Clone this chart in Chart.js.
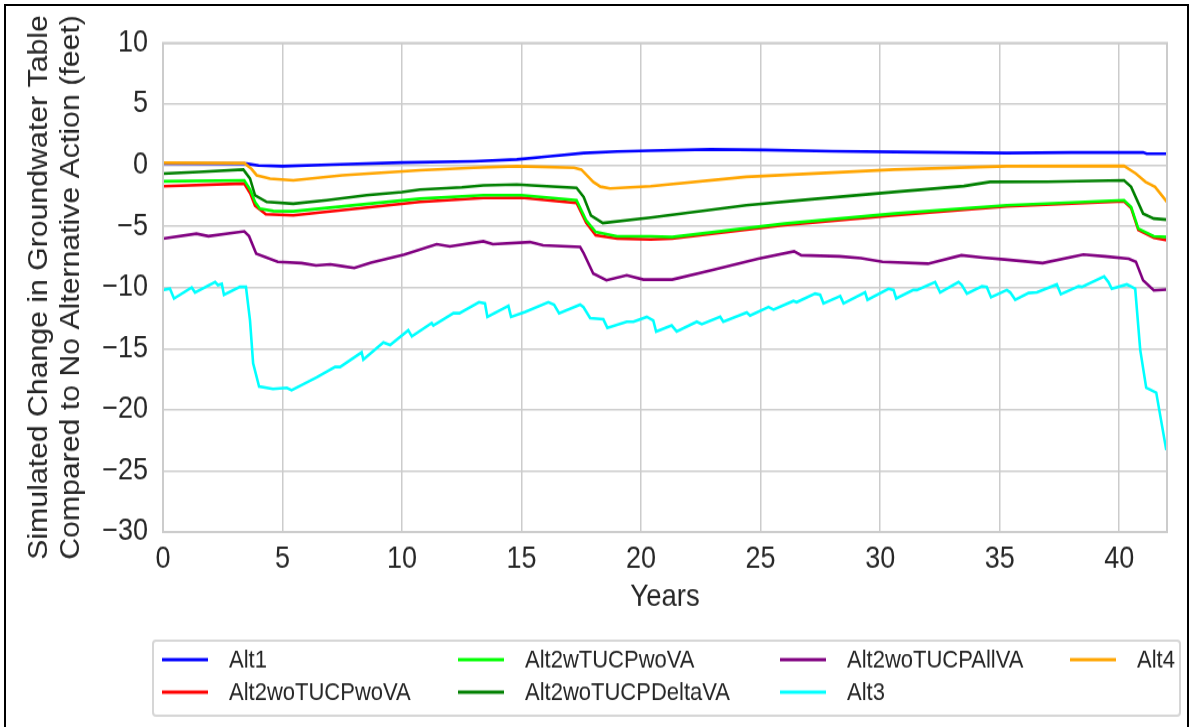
<!DOCTYPE html>
<html>
<head>
<meta charset="utf-8">
<script src="https://cdn.jsdelivr.net/npm/chart.js@4/dist/chart.umd.min.js"></script>
<style>
  html, body { margin: 0; padding: 0; background: #fff; overflow: hidden; }
  #frame { position: absolute; left: 4px; top: 4px; width: 1181px; height: 800px; border: 2px solid #000; }
  /* the source figure is stretched a little vertically, so the canvas is too */
  #chart { position: absolute; left: 0; top: 0; transform: scaleY(1.12); transform-origin: 0 0; }
</style>
</head>
<body>
<div id="frame"></div>
<canvas id="chart" width="1192" height="649"></canvas>
<script>
// Series (years, feet)
const alt1Years  = [0, 3.5, 4.0, 5.0, 7.0, 10.0, 13.0, 14.8, 16.2, 17.6, 19.0, 20.4, 22.9, 25.2, 28.0, 30.6, 35.3, 38.0, 41.0, 41.15, 42];
const alt1Values = [0.15, 0.13, -0.02, -0.08, 0.05, 0.22, 0.33, 0.47, 0.74, 1.0, 1.12, 1.2, 1.3, 1.25, 1.15, 1.09, 1.0, 1.05, 1.05, 0.95, 0.95];

const alt2woTUCPwoVAYears  = [0, 3.4, 3.65, 3.85, 4.3, 5.45, 10.75, 13.4, 15.0, 17.3, 17.7, 18.1, 19.0, 20.4, 21.3, 26.0, 30.6, 35.3, 40.2, 40.5, 40.8, 41.45, 42];
const alt2woTUCPwoVAValues = [-1.72, -1.5, -2.3, -3.3, -4.0, -4.09, -3.0, -2.67, -2.65, -3.08, -4.7, -5.73, -6.0, -6.06, -6.0, -4.9, -4.09, -3.35, -2.95, -3.5, -5.3, -5.92, -6.14];

const alt2wTUCPwoVAYears  = [0, 3.4, 3.65, 3.85, 4.05, 4.62, 5.45, 10.75, 13.4, 15.0, 17.3, 17.7, 18.1, 19.0, 20.4, 21.3, 26.0, 30.6, 35.3, 40.2, 40.5, 40.8, 41.45, 42];
const alt2wTUCPwoVAValues = [-1.31, -1.23, -2.0, -3.0, -3.55, -3.74, -3.76, -2.73, -2.45, -2.45, -2.86, -4.5, -5.46, -5.81, -5.81, -5.87, -4.77, -3.95, -3.27, -2.86, -3.41, -5.18, -5.81, -5.87];

const alt2woTUCPDeltaVAYears  = [0, 1.5, 3.36, 3.64, 3.85, 4.34, 5.45, 6.85, 8.52, 10.0, 10.75, 12.5, 13.4, 14.8, 17.3, 17.6, 17.9, 18.4, 20.4, 24.4, 27.0, 30.6, 33.5, 34.6, 37.0, 40.2, 40.5, 41.0, 41.45, 42];
const alt2woTUCPDeltaVAValues = [-0.68, -0.55, -0.35, -1.09, -2.45, -3.0, -3.14, -2.86, -2.45, -2.2, -1.99, -1.8, -1.64, -1.58, -1.85, -2.6, -4.1, -4.72, -4.28, -3.27, -2.8, -2.18, -1.7, -1.36, -1.35, -1.23, -1.77, -3.95, -4.36, -4.45];

const alt2woTUCPAllVAYears  = [0, 1.4, 1.9, 3.4, 3.6, 3.9, 4.8, 5.8, 6.4, 7.0, 7.5, 8.0, 8.7, 10.1, 11.45, 12.0, 13.4, 13.8, 15.35, 15.9, 17.45, 17.6, 18.0, 18.55, 19.4, 20.1, 21.3, 22.9, 24.9, 26.4, 26.7, 28.3, 29.2, 30.1, 32.0, 33.4, 34.3, 35.2, 36.8, 38.5, 39.4, 40.4, 40.7, 41.0, 41.45, 42];
const alt2woTUCPAllVAValues = [-6.0, -5.6, -5.8, -5.4, -5.8, -7.23, -7.9, -8.0, -8.2, -8.1, -8.25, -8.4, -7.96, -7.3, -6.46, -6.63, -6.22, -6.46, -6.28, -6.55, -6.68, -7.2, -8.86, -9.41, -9.0, -9.35, -9.35, -8.6, -7.64, -7.04, -7.36, -7.45, -7.6, -7.9, -8.05, -7.36, -7.55, -7.7, -8.0, -7.3, -7.45, -7.64, -7.9, -9.41, -10.23, -10.17];

const alt3Years  = [0, 0.29, 0.46, 1.2, 1.34, 2.18, 2.3, 2.46, 2.55, 3.22, 3.47, 3.64, 3.77, 4.02, 4.6, 5.18, 5.38, 6.43, 7.2, 7.41, 8.31, 8.38, 9.22, 9.5, 10.26, 10.41,
  11.24, 11.31, 12.15, 12.4, 13.22, 13.47, 13.57, 14.45, 14.56, 15.15, 16.12, 16.36, 16.57, 17.45, 17.59, 17.87, 18.42, 18.59, 19.4, 19.68, 20.24, 20.51, 20.63,
  21.28, 21.49, 22.33, 22.54, 23.31, 23.44, 24.42, 24.56, 25.33, 25.54, 26.37, 26.51, 27.28, 27.49, 27.63, 28.33, 28.47, 29.37, 29.47, 30.35, 30.56, 30.67,
  31.39, 31.54, 32.3, 32.51, 33.28, 33.42, 33.63, 34.26, 34.46, 34.64, 35.3, 35.44, 35.65, 36.21, 36.56, 37.39, 37.56, 38.3, 38.44, 39.37, 39.55, 39.69,
  40.32, 40.53, 40.67, 40.88, 41.13, 41.55, 41.97];
const alt3Values = [-10.2, -10.1, -10.9, -10.0, -10.4, -9.55, -9.8, -9.7, -10.6, -9.95, -9.95, -12.7, -16.2, -18.1, -18.3, -18.2, -18.4, -17.35, -16.5, -16.5, -15.3, -15.9, -14.5, -14.7, -13.5, -14.0,
  -12.9, -13.1, -12.1, -12.1, -11.2, -11.3, -12.4, -11.5, -12.4, -12.0, -11.2, -11.4, -12.1, -11.4, -11.6, -12.5, -12.6, -13.3, -12.8, -12.8, -12.4, -12.7, -13.6,
  -13.1, -13.6, -12.8, -13.0, -12.4, -12.8, -12.05, -12.3, -11.6, -11.8, -11.1, -11.2, -10.5, -10.6, -11.3, -10.7, -11.3, -10.4, -11.0, -10.1, -10.2, -10.9,
  -10.2, -10.2, -9.55, -10.4, -9.55, -9.8, -10.5, -9.9, -9.95, -10.8, -10.2, -10.4, -11.0, -10.45, -10.4, -9.75, -10.55, -9.9, -9.95, -9.1, -9.55, -10.1,
  -9.75, -9.95, -10.1, -15.1, -18.2, -18.6, -23.3];

const alt4Years  = [0, 3.4, 3.7, 3.92, 4.48, 5.45, 7.5, 10.75, 13.0, 14.8, 17.2, 17.5, 18.0, 18.3, 18.7, 20.4, 24.4, 30.6, 35.3, 40.2, 40.7, 41.1, 41.5, 42];
const alt4Values = [0.2, 0.18, -0.3, -0.82, -1.09, -1.23, -0.82, -0.41, -0.2, -0.08, -0.2, -0.35, -1.36, -1.75, -1.9, -1.72, -0.95, -0.35, -0.08, -0.05, -0.68, -1.36, -1.77, -3.0];

const seriesNames  = ['Alt1', 'Alt2woTUCPwoVA', 'Alt2wTUCPwoVA', 'Alt2woTUCPDeltaVA', 'Alt2woTUCPAllVA', 'Alt3', 'Alt4'];
const seriesColors = ['#0000ff', '#ff0000', '#00ff00', '#008000', '#800080', '#00ffff', '#ffa500'];
const seriesYears  = [alt1Years, alt2woTUCPwoVAYears, alt2wTUCPwoVAYears, alt2woTUCPDeltaVAYears, alt2woTUCPAllVAYears, alt3Years, alt4Years];
const seriesValues = [alt1Values, alt2woTUCPwoVAValues, alt2wTUCPwoVAValues, alt2woTUCPDeltaVAValues, alt2woTUCPAllVAValues, alt3Values, alt4Values];

const yTicks = [-30, -25, -20, -15, -10, -5, 0, 5, 10];
const xTicks = [0, 5, 10, 15, 20, 25, 30, 35, 40];

const FONT = '"Liberation Sans", Arial, sans-serif';
const TEXT = '#262626';

// build the datasets, later series drawn on top like the original
const datasets = seriesNames.map((name, i) => ({
    label: name,
    data: seriesYears[i].map((yr, k) => ({ x: yr, y: seriesValues[i][k] })),
    borderColor: seriesColors[i],
    backgroundColor: seriesColors[i],
    borderWidth: 2.6,
    pointRadius: 0,
    fill: false,
    order: seriesNames.length - i,
}));

// light grey frame round the plot area
const plotFrame = {
    id: 'plotFrame',
    afterDatasetsDraw(chart) {
        const { ctx, chartArea: a } = chart;
        ctx.save();
        ctx.strokeStyle = '#cccccc';
        ctx.lineWidth = 2;
        ctx.strokeRect(a.left, a.top, a.right - a.left, a.bottom - a.top);
        ctx.restore();
    }
};

// legend laid out in columns, filled column by column
const columnLegend = {
    id: 'columnLegend',
    afterDraw(chart) {
        const ctx = chart.ctx;
        const colX = [162, 458, 780, 1070];
        const rowY = [589, 618];
        ctx.save();
        ctx.fillStyle = '#ffffff';
        ctx.strokeStyle = '#d6d6d6';
        ctx.lineWidth = 2;
        ctx.beginPath();
        ctx.roundRect(153, 572, 1027, 67, 3);
        ctx.fill();
        ctx.stroke();
        ctx.font = '22px ' + FONT;
        ctx.textBaseline = 'middle';
        chart.data.datasets.forEach((ds, i) => {
            const x = colX[Math.floor(i / 2)];
            const y = rowY[i % 2];
            ctx.strokeStyle = ds.borderColor;
            ctx.lineWidth = 2.8;
            ctx.beginPath();
            ctx.moveTo(x, y);
            ctx.lineTo(x + 46, y);
            ctx.stroke();
            ctx.fillStyle = TEXT;
            ctx.fillText(ds.label, x + 67, y + 1);
        });
        ctx.restore();
    }
};

const chart = new Chart(document.getElementById('chart'), {
    type: 'line',
    data: { datasets: datasets },
    options: {
        responsive: false,
        animation: false,
        events: [],
        layout: { padding: { left: 0, right: 25, top: 38.4, bottom: 99.5 } },
        plugins: {
            legend: { display: false },
            tooltip: { enabled: false },
        },
        elements: { line: { tension: 0 } },
        scales: {
            x: {
                type: 'linear',
                min: 0,
                max: 42,
                afterBuildTicks: s => { s.ticks = xTicks.map(v => ({ value: v })); },
                afterFit: s => { s.height = 74.5; },
                ticks: { color: TEXT, font: { family: FONT, size: 27 }, padding: 8, maxRotation: 0 },
                grid: { color: '#cccccc', lineWidth: 1.5, drawTicks: false },
                border: { display: false },
                title: { display: true, text: 'Years', color: TEXT, font: { family: FONT, size: 27.5, lineHeight: 1.2 }, padding: 0 },
            },
            y: {
                min: -30,
                max: 10,
                afterBuildTicks: s => { s.ticks = yTicks.map(v => ({ value: v })); },
                afterFit: s => { s.width = 163; },
                ticks: {
                    color: TEXT,
                    font: { family: FONT, size: 27 },
                    padding: 15,
                    callback: v => v < 0 ? '\u2212' + Math.abs(v) : String(v),
                },
                grid: { color: '#cccccc', lineWidth: 1.5, drawTicks: false },
                border: { display: false },
                title: {
                    display: true,
                    text: ['Simulated Change in Groundwater Table', 'Compared to No Alternative Action (feet)'],
                    color: TEXT,
                    font: { family: FONT, size: 27, lineHeight: 1.185 },
                    padding: { top: 24, bottom: 0 },
                },
            },
        },
    },
    plugins: [plotFrame, columnLegend],
});
</script>
</body>
</html>
